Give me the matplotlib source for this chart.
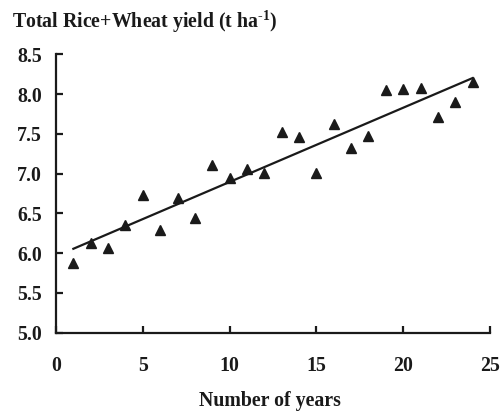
import numpy as np
import matplotlib
matplotlib.use('Agg')
import matplotlib.pyplot as plt

plt.rcParams['font.family'] = 'Liberation Serif'
plt.rcParams['font.weight'] = 'bold'
plt.rcParams['mathtext.fontset'] = 'custom'
plt.rcParams['mathtext.rm'] = 'Liberation Serif:bold'
plt.rcParams['mathtext.default'] = 'rm'

years = np.arange(1, 25)
yield_t = [5.88, 6.13, 6.07, 6.36, 6.73, 6.29, 6.70, 6.44, 7.11, 6.95, 7.06, 7.01,
           7.53, 7.46, 7.01, 7.63, 7.32, 7.48, 8.05, 8.06, 8.08, 7.71, 7.90, 8.15]
xticks = [0, 5, 10, 15, 20, 25]
yticks = [5.0, 5.5, 6.0, 6.5, 7.0, 7.5, 8.0, 8.5]

fig = plt.figure(figsize=(5, 4.11), dpi=100)
ax = fig.add_axes([0.112, 0.1905, 0.868, 0.677])

# linear trend
slope, intercept = np.polyfit(years, yield_t, 1)
ax.plot(years, slope * years + intercept, color='#1a1a1a', lw=1.6)
ax.plot(years, yield_t, '^', color='#1a1a1a', markersize=7.5, clip_on=False)

ax.set_xlim(0, 25)
ax.set_ylim(5.0, 8.5)
ax.set_xticks(xticks)
ax.set_yticks(yticks)
ax.set_yticklabels(['%.1f' % v for v in yticks])
ax.spines['top'].set_visible(False)
ax.spines['right'].set_visible(False)
for s in ['left', 'bottom']:
    ax.spines[s].set_linewidth(1.6)
    ax.spines[s].set_color('#1a1a1a')
ax.tick_params(direction='in', length=5, width=1.6, labelsize=14.3, colors='#1a1a1a')
ax.tick_params(axis='x', pad=17)
ax.tick_params(axis='y', pad=10)

fig.text(0.024, 0.946, 'Total Rice+Wheat yield (t ha$^{\\text{-1}}$)', fontsize=14.3,
         fontweight='bold', va='center', ha='left', color='#1a1a1a')
fig.text(0.54, 0.025, 'Number of years', fontsize=14.3, fontweight='bold',
         ha='center', va='center', color='#1a1a1a')

fig.savefig('out.png', dpi=100)
